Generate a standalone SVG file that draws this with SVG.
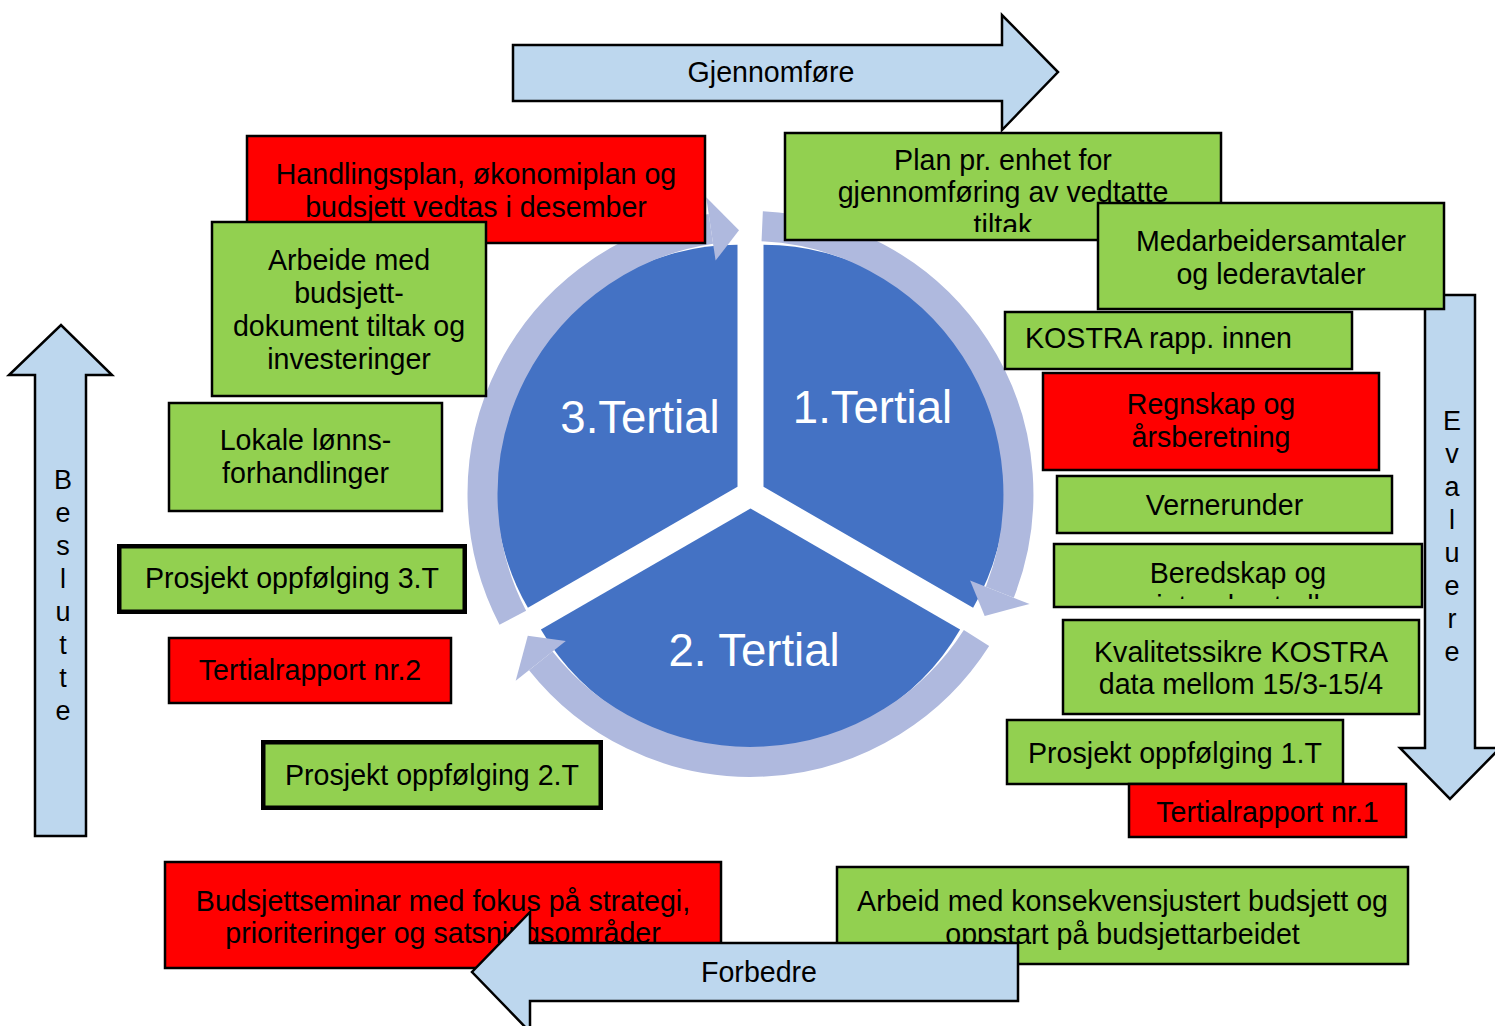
<svg xmlns="http://www.w3.org/2000/svg" width="1495" height="1026" viewBox="0 0 1495 1026">
<style>
.g{fill:#92D050;stroke:#000;stroke-width:2.5}
.r{fill:#FF0000;stroke:#000;stroke-width:2.5}
.thick{stroke-width:4.5}
.arr{fill:#BDD7EE;stroke:#000;stroke-width:2.5;stroke-linejoin:miter}
.t{font-family:"Liberation Sans",Arial,sans-serif;font-size:28.6px;fill:#000;text-anchor:middle}
.tl{font-family:"Liberation Sans",Arial,sans-serif;font-size:28.6px;fill:#000}
.v{font-family:"Liberation Sans",Arial,sans-serif;font-size:27px;fill:#000;text-anchor:middle}
.pie{fill:#4472C4}
.ring{fill:none;stroke:#AFB9DE;stroke-width:30}
.ah{fill:#AFB9DE}
.pt{font-family:"Liberation Sans",Arial,sans-serif;font-size:45.5px;fill:#fff;text-anchor:middle}
</style>
<defs>
<clipPath id="clipPlan"><rect x="785" y="133" width="436" height="99"/></clipPath>
<clipPath id="clipBer"><rect x="1054" y="544" width="368" height="55"/></clipPath>
</defs>
<rect x="0" y="0" width="1495" height="1026" fill="#fff"/>

<g id="cycle">
<path class="pie" d="M763.5,486.8 L763.5,244.8 A242,242 0 0 1 973.1,607.8 Z"/>
<path class="pie" d="M750.5,508.4 L960.1,629.4 A242,242 0 0 1 540.9,629.4 Z"/>
<path class="pie" d="M737.5,486.8 L527.9,607.8 A242,242 0 0 1 737.5,244.8 Z"/>
<text class="pt" x="872.5" y="423">1.Tertial</text>
<text class="pt" x="640" y="433">3.Tertial</text>
<text class="pt" x="754" y="666">2. Tertial</text>
</g>

<g id="connectors">
<path class="ring" d="M762.2,226.3 A268,268 0 0 1 999.8,592.2"/>
<polygon class="ah" points="1029.6,604 984.7,615.9 970.1,580.5"/>
<path class="ring" d="M976.5,638 A268,268 0 0 1 540.8,660.8"/>
<polygon class="ah" points="515.7,680.8 527.8,635.8 565.8,640.9"/>
<path class="ring" d="M512.8,617.7 A268,268 0 0 1 710.9,228.9"/>
<polygon class="ah" points="706.2,197.3 739,230.3 715.6,260.6"/>
</g>

<g id="gjennomfore">
<polygon class="arr" points="513,45 1002,45 1002,15 1058,72 1002,130 1002,101 513,101"/>
<text class="t" x="771" y="82">Gjennomføre</text>
</g>
<g id="beslutte">
<polygon class="arr" points="35,836 35,375 9,375 61,325 112,375 86,375 86,836"/>
<text class="v" x="63" y="489">B</text>
<text class="v" x="63" y="522">e</text>
<text class="v" x="63" y="555">s</text>
<text class="v" x="63" y="588">l</text>
<text class="v" x="63" y="621">u</text>
<text class="v" x="63" y="654">t</text>
<text class="v" x="63" y="687">t</text>
<text class="v" x="63" y="720">e</text>
</g>
<g id="evaluere">
<polygon class="arr" points="1425,295 1475,295 1475,748 1500,748 1450,799 1400,748 1425,748"/>
<text class="v" x="1452" y="430">E</text>
<text class="v" x="1452" y="463">v</text>
<text class="v" x="1452" y="496">a</text>
<text class="v" x="1452" y="529">l</text>
<text class="v" x="1452" y="562">u</text>
<text class="v" x="1452" y="595">e</text>
<text class="v" x="1452" y="628">r</text>
<text class="v" x="1452" y="661">e</text>
</g>

<g id="handlingsplan">
<rect class="r" x="247" y="136" width="458" height="107"/>
<text class="t" x="476" y="184">Handlingsplan, økonomiplan og</text>
<text class="t" x="476" y="217">budsjett vedtas i desember</text>
</g>
<g id="arbeide">
<rect class="g" x="212" y="222" width="274" height="174"/>
<text class="t" x="349" y="270">Arbeide med</text>
<text class="t" x="349" y="303">budsjett-</text>
<text class="t" x="349" y="336">dokument tiltak og</text>
<text class="t" x="349" y="369">investeringer</text>
</g>
<g id="lokale">
<rect class="g" x="169" y="403" width="273" height="108"/>
<text class="t" x="305.5" y="450">Lokale lønns-</text>
<text class="t" x="305.5" y="483">forhandlinger</text>
</g>
<g id="prosjekt3">
<rect class="g thick" x="119.25" y="546.25" width="345.5" height="65.5"/>
<text class="t" x="292" y="588">Prosjekt oppfølging 3.T</text>
</g>
<g id="tertial2">
<rect class="r" x="169" y="638" width="282" height="65"/>
<text class="t" x="310" y="680">Tertialrapport nr.2</text>
</g>
<g id="prosjekt2">
<rect class="g thick" x="263.25" y="742.25" width="337.5" height="65.5"/>
<text class="t" x="432" y="785">Prosjekt oppfølging 2.T</text>
</g>
<g id="budsjettseminar">
<rect class="r" x="165" y="862" width="556" height="106"/>
<text class="t" x="443" y="911">Budsjettseminar med fokus på strategi,</text>
<text class="t" x="443" y="943">prioriteringer og satsningsområder</text>
</g>
<g id="plan">
<rect class="g" x="785" y="133" width="436" height="107"/>
<g clip-path="url(#clipPlan)">
<text class="t" x="1003" y="170">Plan pr. enhet for</text>
<text class="t" x="1003" y="202">gjennomføring av vedtatte</text>
<text class="t" x="1003" y="235">tiltak</text>
</g>
</g>
<g id="medarbeider">
<rect class="g" x="1098" y="203" width="346" height="106"/>
<text class="t" x="1271" y="251">Medarbeidersamtaler</text>
<text class="t" x="1271" y="284">og lederavtaler</text>
</g>
<g id="kostra">
<rect class="g" x="1005" y="312" width="347" height="57"/>
<text class="tl" x="1025" y="348">KOSTRA rapp. innen</text>
</g>
<g id="regnskap">
<rect class="r" x="1043" y="373" width="336" height="97"/>
<text class="t" x="1211" y="414">Regnskap og</text>
<text class="t" x="1211" y="447">årsberetning</text>
</g>
<g id="vernerunder">
<rect class="g" x="1057" y="476" width="335" height="57"/>
<text class="t" x="1224.5" y="515">Vernerunder</text>
</g>
<g id="beredskap">
<rect class="g" x="1054" y="544" width="368" height="63"/>
<g clip-path="url(#clipBer)">
<text class="t" x="1238" y="583">Beredskap og</text>
<text class="t" x="1238" y="616">internkontroll</text>
</g>
</g>
<g id="kvalitetssikre">
<rect class="g" x="1063" y="620" width="356" height="94"/>
<text class="t" x="1241" y="662">Kvalitetssikre KOSTRA</text>
<text class="t" x="1241" y="694">data mellom 15/3-15/4</text>
</g>
<g id="prosjekt1">
<rect class="g" x="1007" y="720" width="336" height="64"/>
<text class="t" x="1175" y="763">Prosjekt oppfølging 1.T</text>
</g>
<g id="tertial1">
<rect class="r" x="1129" y="784" width="277" height="53"/>
<text class="t" x="1267.5" y="822">Tertialrapport nr.1</text>
</g>
<g id="konsekvens">
<rect class="g" x="837" y="867" width="571" height="97"/>
<text class="t" x="1122.5" y="911">Arbeid med konsekvensjustert budsjett og</text>
<text class="t" x="1122.5" y="944">oppstart på budsjettarbeidet</text>
</g>
<g id="forbedre">
<polygon class="arr" points="1018,943 1018,1001 530,1001 530,1032 472,972 530,912 530,943"/>
<text class="t" x="759" y="982">Forbedre</text>
</g>
</svg>
